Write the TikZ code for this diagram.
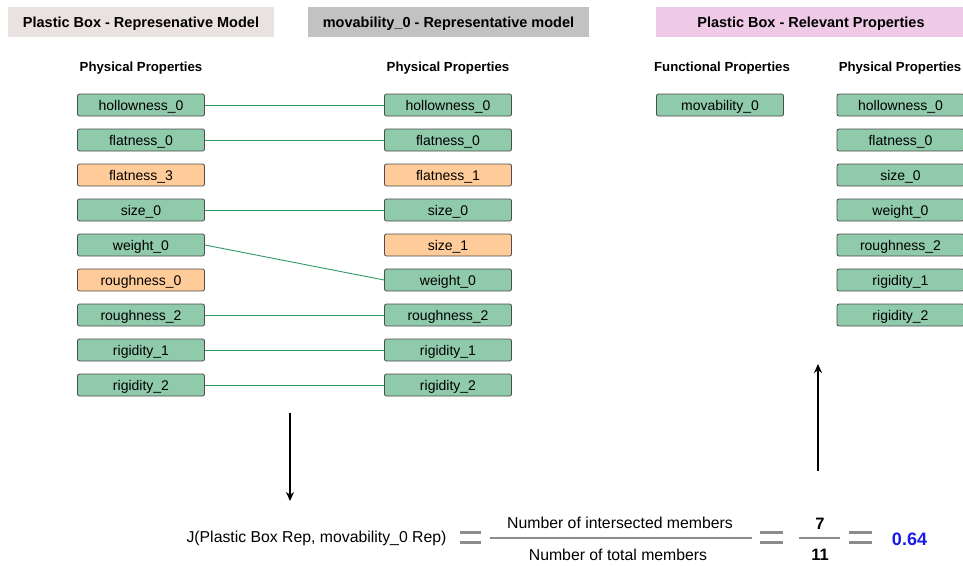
\documentclass[tikz,border=0pt]{standalone}
\usepackage{fontspec}
\setmainfont{Liberation Sans}
\usetikzlibrary{arrows.meta}
\definecolor{propgreen}{HTML}{8FCAAA}
\definecolor{proporange}{HTML}{FFCC99}
\definecolor{linkgreen}{HTML}{2E9966}
\definecolor{titleA}{HTML}{EAE1E1}
\definecolor{titleB}{HTML}{C2C2C2}
\definecolor{titleC}{HTML}{EECAE6}
\definecolor{eqgray}{HTML}{8C8C8C}
\definecolor{resblue}{HTML}{1A1AE6}
\begin{document}
\begin{tikzpicture}[x=1pt,y=-1pt,
  prop/.style={draw=black!70,line width=0.8pt,rounded corners=2pt,minimum width=127pt,minimum height=22pt,inner sep=0pt,text height=10pt,text depth=0pt,font=\fontsize{14}{16}\selectfont},
  good/.style={prop,fill=propgreen},
  bad/.style={prop,fill=proporange},
  titlebox/.style={inner sep=0pt,minimum height=30pt,text height=10.5pt,text depth=0pt,font=\fontsize{14.5}{17}\selectfont\bfseries},
  head/.style={text height=9.5pt,text depth=0pt,font=\fontsize{13.2}{15}\selectfont\bfseries},
  link/.style={draw=linkgreen,line width=0.9pt},
  eqbar/.style={draw=eqgray,line width=3pt},
  fracbar/.style={draw=eqgray,line width=2.6pt},
  flow/.style={draw=black,line width=2.2pt,-{Stealth[length=9pt,width=8pt]}},
  txt/.style={font=\fontsize{15.8}{18}\selectfont},
  big/.style={font=\fontsize{16.5}{19}\selectfont\bfseries}
]
\useasboundingbox (0,0) rectangle (963,565);

% titles
\node[titlebox,fill=titleA,minimum width=266pt] (tA) at (141,22) {Plastic Box - Represenative Model};
\node[titlebox,fill=titleB,minimum width=281pt] (tB) at (448.5,22) {movability\_0 - Representative model};
\node[titlebox,fill=titleC,minimum width=310pt] (tC) at (811,22) {Plastic Box - Relevant Properties};

% column headings
\node[head] (hA) at (141,67) {Physical Properties};
\node[head] (hB) at (448,67) {Physical Properties};
\node[head] (hC) at (722,67) {Functional Properties};
\node[head] (hD) at (900,67) {Physical Properties};

% left column
\node[good] (a1) at (141,105) {hollowness\_0};
\node[good] (a2) at (141,140) {flatness\_0};
\node[bad]  (a3) at (141,175) {flatness\_3};
\node[good] (a4) at (141,210) {size\_0};
\node[good] (a5) at (141,245) {weight\_0};
\node[bad]  (a6) at (141,280) {roughness\_0};
\node[good] (a7) at (141,315) {roughness\_2};
\node[good] (a8) at (141,350) {rigidity\_1};
\node[good] (a9) at (141,385) {rigidity\_2};

% middle column
\node[good] (b1) at (448,105) {hollowness\_0};
\node[good] (b2) at (448,140) {flatness\_0};
\node[bad]  (b3) at (448,175) {flatness\_1};
\node[good] (b4) at (448,210) {size\_0};
\node[bad]  (b5) at (448,245) {size\_1};
\node[good] (b6) at (448,280) {weight\_0};
\node[good] (b7) at (448,315) {roughness\_2};
\node[good] (b8) at (448,350) {rigidity\_1};
\node[good] (b9) at (448,385) {rigidity\_2};

% relevant properties
\node[good] (c1) at (720,105) {movability\_0};
\node[good] (d1) at (900.5,105) {hollowness\_0};
\node[good] (d2) at (900.5,140) {flatness\_0};
\node[good] (d3) at (900.5,175) {size\_0};
\node[good] (d4) at (900.5,210) {weight\_0};
\node[good] (d5) at (900.5,245) {roughness\_2};
\node[good] (d6) at (900.5,280) {rigidity\_1};
\node[good] (d7) at (900.5,315) {rigidity\_2};

% shared members
\draw[link] (a1.east) -- (b1.west);
\draw[link] (a2.east) -- (b2.west);
\draw[link] (a4.east) -- (b4.west);
\draw[link] (a5.east) -- (b6.west);
\draw[link] (a7.east) -- (b7.west);
\draw[link] (a8.east) -- (b8.west);
\draw[link] (a9.east) -- (b9.west);

% flow arrows
\coordinate (s1) at (290,413);
\coordinate (e1) at (290,501);
\draw[flow] (s1) -- (e1);
\coordinate (s2) at (818,471);
\coordinate (e2) at (818,364);
\draw[flow] (s2) -- (e2);

% Jaccard index
\node[txt,anchor=east] (jl) at (450,538) {J(Plastic Box Rep, movability\_0 Rep)};
\coordinate (q1) at (460,532.5); \coordinate (q1e) at (481,532.5);
\coordinate (q2) at (460,542.5); \coordinate (q2e) at (481,542.5);
\draw[eqbar] (q1) -- (q1e);
\draw[eqbar] (q2) -- (q2e);
\coordinate (f1) at (490,538); \coordinate (f1e) at (752,538);
\draw[fracbar] (f1) -- (f1e);
\node[txt] (num) at (620,523) {Number of intersected members};
\node[txt] (den) at (618,555) {Number of total members};
\coordinate (q3) at (760,532.5); \coordinate (q3e) at (783,532.5);
\coordinate (q4) at (760,542.5); \coordinate (q4e) at (783,542.5);
\draw[eqbar] (q3) -- (q3e);
\draw[eqbar] (q4) -- (q4e);
\coordinate (f2) at (799,538); \coordinate (f2e) at (840,538);
\draw[fracbar] (f2) -- (f2e);
\node[big] (n7) at (820,523.5) {7};
\node[big] (n11) at (820,555) {11};
\coordinate (q5) at (849,532.5); \coordinate (q5e) at (872,532.5);
\coordinate (q6) at (849,542.5); \coordinate (q6e) at (872,542.5);
\draw[eqbar] (q5) -- (q5e);
\draw[eqbar] (q6) -- (q6e);
\node[font=\fontsize{18}{21}\selectfont\bfseries,text=resblue] (res) at (909.5,539) {0.64};
\end{tikzpicture}
\end{document}
